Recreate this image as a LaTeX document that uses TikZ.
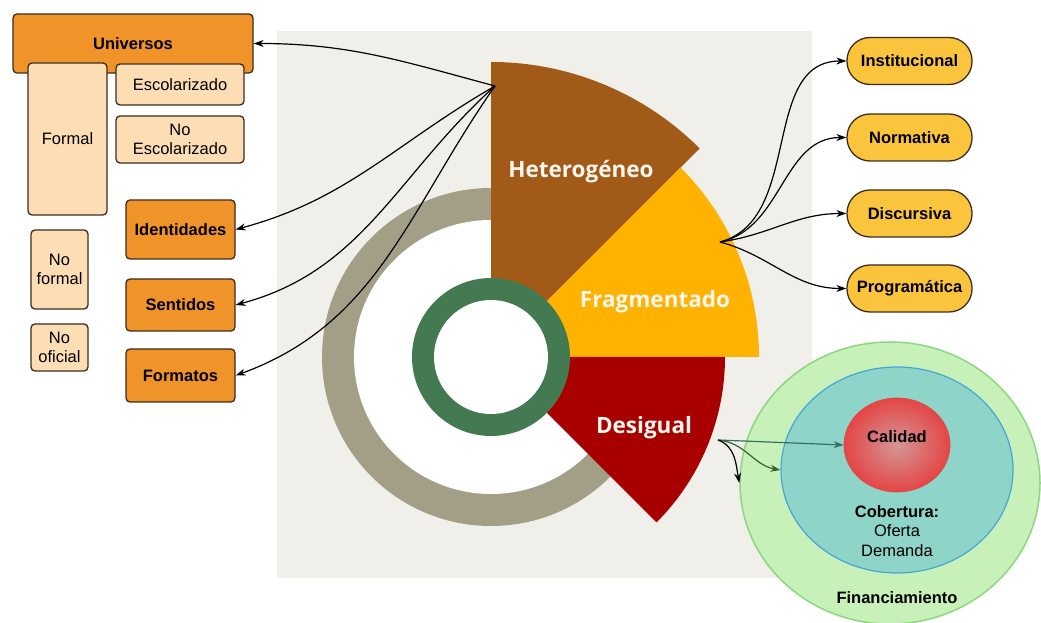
\documentclass[tikz,border=0pt]{standalone}
\usepackage{fontspec}
\setmainfont{Liberation Sans}
\newfontfamily\wedgefont{Open Sans}
\usetikzlibrary{arrows.meta,shapes.geometric}

\definecolor{panelbg}{RGB}{240,239,234}
\definecolor{ringgray}{RGB}{163,159,135}
\definecolor{ringgreen}{RGB}{68,122,82}
\definecolor{hetcol}{RGB}{162,90,24}
\definecolor{fragcol}{RGB}{255,179,0}
\definecolor{descol}{RGB}{168,0,0}
\definecolor{wedgetext}{RGB}{252,246,238}
\definecolor{boxline}{RGB}{60,45,30}
\definecolor{univfill}{RGB}{240,148,42}
\definecolor{subfill}{RGB}{253,222,180}
\definecolor{dimfill}{RGB}{250,196,60}
\definecolor{finfill}{RGB}{200,240,185}
\definecolor{finline}{RGB}{140,215,130}
\definecolor{cobfill}{RGB}{143,212,200}
\definecolor{cobline}{RGB}{70,165,215}
\definecolor{calin}{RGB}{212,150,150}
\definecolor{calout}{RGB}{228,70,70}
\definecolor{arrteal}{RGB}{55,110,100}
\definecolor{arrgreen}{RGB}{50,100,50}

\begin{document}
\begin{tikzpicture}[x=1pt, y=1pt, line width=1.2pt,
    >={Stealth[length=10pt, width=7pt]},
    univ/.style={rectangle, rounded corners=4pt, draw=boxline, line width=1.3pt, fill=univfill,
      inner sep=0pt, font=\fontsize{16.5}{19}\selectfont\bfseries},
    subuniv/.style={rectangle, rounded corners=4pt, draw=boxline, line width=1.3pt, fill=subfill,
      inner sep=0pt, align=center, font=\fontsize{16.5}{19.5}\selectfont},
    dim/.style={rectangle, rounded corners=23pt, draw=boxline, line width=1.3pt, fill=dimfill,
      minimum width=125pt, minimum height=47pt, inner sep=0pt, font=\fontsize{16.5}{19}\selectfont\bfseries},
    wedgelabel/.style={text=wedgetext, font=\wedgefont\fontsize{22.5}{26}\selectfont\bfseries},
    circlabel/.style={align=center, font=\fontsize{16.5}{19.5}\selectfont}]

  \useasboundingbox (0,0) rectangle (1041,623);
  \fill[white] (0,0) rectangle (1041,623);

  % Panel and rings
  \fill[panelbg] (277,45) rectangle (812,592);
  \coordinate (centre) at (491,266);
  \fill[ringgray] (centre) circle[radius=169pt];
  \fill[white] (centre) circle[radius=137pt];

  % Wedges
  \fill[hetcol] (centre) -- ++(90:295pt) arc[start angle=90, end angle=45, radius=295pt] -- cycle;
  \fill[fragcol] (centre) -- ++(45:268pt) arc[start angle=45, end angle=0, radius=268pt] -- cycle;
  \fill[descol] (centre) -- ++(0:234pt) arc[start angle=0, end angle=-45, radius=234pt] -- cycle;
  \fill[ringgreen] (centre) circle[radius=79pt];
  \fill[white] (centre) circle[radius=57pt];

  \node[wedgelabel] at (581,451) (het) {Heterogéneo};
  \node[wedgelabel] at (655,321) (frag) {Fragmentado};
  \node[wedgelabel] at (644,195) (des) {Desigual};

  \coordinate (hetsrc) at (495,537);
  \coordinate (fragsrc) at (720,381);
  \coordinate (dessrc) at (718,183);

  % Universos
  \node[univ, minimum width=240pt, minimum height=59pt] at (133,579.5) (universos) {Universos};
  \node[subuniv, minimum width=79pt, minimum height=152pt] at (67.5,484) (formal) {Formal};
  \node[subuniv, minimum width=128pt, minimum height=41pt] at (180,538.5) (escol) {Escolarizado};
  \node[subuniv, minimum width=128pt, minimum height=47pt] at (180,483.5) (noescol) {No\\Escolarizado};
  \node[subuniv, minimum width=57pt, minimum height=79pt] at (59.5,353.5) (noformal) {No\\formal};
  \node[subuniv, minimum width=57pt, minimum height=47pt] at (59.5,275.5) (nooficial) {No\\oficial};

  \node[univ, minimum width=109pt, minimum height=59pt] at (180.5,393.5) (ident) {Identidades};
  \node[univ, minimum width=109pt, minimum height=52pt] at (180.5,318) (sent) {Sentidos};
  \node[univ, minimum width=109pt, minimum height=53pt] at (180.5,247.5) (form) {Formatos};

  % Dimensiones
  \node[dim] at (909.5,562) (inst) {Institucional};
  \node[dim] at (909.5,485.5) (norm) {Normativa};
  \node[dim] at (909.5,409.5) (disc) {Discursiva};
  \node[dim] at (909.5,334.5) (prog) {Programática};

  % Circulos
  \node[ellipse, draw=finline, line width=1.5pt, fill=finfill, minimum width=300pt, minimum height=282pt] at (890,140) (fin) {};
  \node[ellipse, draw=cobline, line width=1.2pt, fill=cobfill, minimum width=232pt, minimum height=206pt] at (897,153) (cob) {};
  \node[ellipse, draw=calout, line width=0.8pt, inner color=calin, outer color=calout, minimum width=106pt, minimum height=94pt] at (897,178) (cal) {};
  \node[circlabel] at (897,186) (caltext) {\textbf{Calidad}};
  \node[circlabel] at (897,92) (cobtext) {\textbf{Cobertura:}\\Oferta\\Demanda};
  \node[circlabel] at (897,25) (fintext) {\textbf{Financiamiento}};

  \draw[->] (hetsrc) to[out=165, in=0] (universos.east);
  \draw[->] (hetsrc) to[out=210, in=15] (ident.east);
  \draw[->] (hetsrc) to[out=222, in=15] (sent.east);
  \draw[->] (hetsrc) to[out=235, in=20] (form.east);

  \draw[->] (fragsrc) to[out=15, in=180] (inst.west);
  \draw[->] (fragsrc) to[out=12, in=180] (norm.west);
  \draw[->] (fragsrc) to[out=8, in=180] (disc.west);
  \draw[->] (fragsrc) to[out=-15, in=180] (prog.west);

  \draw[->, arrteal] (dessrc) -- (cal.west);
  \draw[->, arrgreen] (dessrc) to[out=-5, in=170] (cob.west);
  \draw[->] (dessrc) to[out=-20, in=100] (fin.west);
\end{tikzpicture}
\end{document}
